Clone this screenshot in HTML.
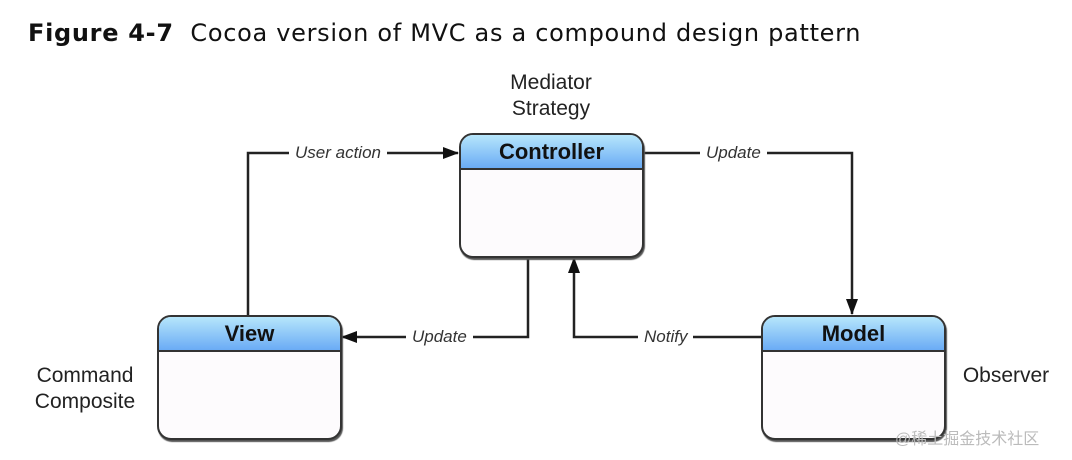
<!DOCTYPE html>
<html><head><style>
body{margin:0;width:1072px;height:460px;background:#fff;position:relative;overflow:hidden;font-family:"Liberation Sans",sans-serif}
.t{position:absolute;left:28px;top:19px;font-size:24px;color:#111;font-family:"DejaVu Sans",sans-serif;white-space:nowrap;letter-spacing:0.7px}
.box{position:absolute;width:181px;height:121px;border:2px solid #333;border-radius:14px;background:#fdfbfd;overflow:hidden;box-shadow:1px 2px 1px #555}
.hd{height:33px;border-bottom:2px solid #333;background:linear-gradient(#b6e6fb,#6aabf5);text-align:center;font-weight:bold;font-size:22px;line-height:34px;color:#111}
.l{position:absolute;font-size:21px;color:#222;text-align:center;line-height:26px}
.i{position:absolute;font-style:italic;font-size:17px;color:#333;background:#fff;padding:0 6px}
</style></head><body>
<div class="t"><b>Figure 4-7</b>&nbsp; Cocoa version of MVC as a compound design pattern</div>
<svg width="1072" height="460" style="position:absolute;left:0;top:0">
<defs><marker id="a" markerWidth="16" markerHeight="14" refX="15" refY="6" orient="auto" markerUnits="userSpaceOnUse"><path d="M0,0 L16,6 L0,12 z" fill="#111"/></marker></defs>
<g stroke="#222" stroke-width="2.5" fill="none">
<path d="M248,316 V153 H458" marker-end="url(#a)"/>
<path d="M643,153 H852 V314" marker-end="url(#a)"/>
<path d="M528,257 V337 H342" marker-end="url(#a)"/>
<path d="M761,337 H574 V258" marker-end="url(#a)"/>
</g></svg>
<div class="i" style="left:289px;top:143px">User action</div>
<div class="i" style="left:700px;top:143px">Update</div>
<div class="i" style="left:406px;top:327px">Update</div>
<div class="i" style="left:638px;top:327px">Notify</div>
<div class="box" style="left:459px;top:133px"><div class="hd">Controller</div></div>
<div class="box" style="left:157px;top:315px"><div class="hd">View</div></div>
<div class="box" style="left:761px;top:315px"><div class="hd">Model</div></div>
<div class="l" style="left:486px;top:70px;width:130px">Mediator<br>Strategy</div>
<div class="l" style="left:20px;top:363px;width:130px">Command<br>Composite</div>
<div class="l" style="left:950px;top:363px;width:112px">Observer</div>
<div style="position:absolute;left:895px;top:425px;font-size:16px;color:#bbb;font-family:'Liberation Sans','Noto Sans CJK SC',sans-serif">@稀土掘金技术社区</div>
</body></html>
